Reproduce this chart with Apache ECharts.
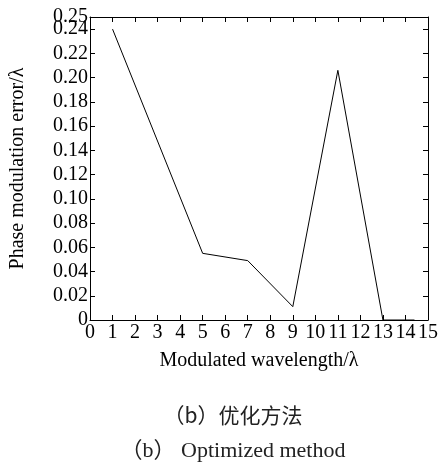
<!DOCTYPE html>
<html>
<head>
<meta charset="utf-8">
<script src="https://cdn.jsdelivr.net/npm/echarts@6/dist/echarts.min.js"></script>
<style>
html,body{margin:0;padding:0;background:#fff;}
#chart{width:441px;height:462px;}
</style>
</head>
<body>
<div id="chart"></div>
<script>
// 数据
var wavelength = [1, 5, 7, 9, 11, 13, 14.4];
var phaseError = [0.24, 0.055, 0.049, 0.011, 0.206, 0, 0];
var yTicks = [0, 0.02, 0.04, 0.06, 0.08, 0.10, 0.12, 0.14, 0.16, 0.18, 0.20, 0.22, 0.24];
var yTopTick = [0.25];
var xTicks = [0, 1, 2, 3, 4, 5, 6, 7, 8, 9, 10, 11, 12, 13, 14, 15];
var xTitle = 'Modulated wavelength/\u03bb';
var yTitle = 'Phase modulation error/\u03bb';
var captionCn = '\uff08b\uff09\u4f18\u5316\u65b9\u6cd5';
var captionEn = '\uff08b\uff09 Optimized method';

var FONT = '"Liberation Serif", "DejaVu Serif", serif';
var points = [];
for (var i = 0; i < wavelength.length; i++) {
	points.push([wavelength[i], phaseError[i]]);
}
var fmt = function (v) { return v === 0 ? '0' : v.toFixed(2); };

var chart = echarts.init(document.getElementById('chart'));
var line = {show: true, onZero: false, lineStyle: {color: '#000', width: 1}};
function tick(vals) {
	return {show: true, inside: true, length: 5, customValues: vals, lineStyle: {color: '#000', width: 1}};
}
var option = {
	animation: false,
	backgroundColor: '#fff',
	grid: {left: 90, right: 10, top: 17, bottom: 142},
	title: [
		{text: captionCn, left: 228, top: 400, textAlign: 'center',
			textStyle: {fontFamily: '"Noto Sans CJK SC", ' + FONT, fontSize: 21, fontWeight: 'normal', color: '#222'}},
		{text: captionEn, left: 228, top: 435, textAlign: 'center',
			textStyle: {fontFamily: FONT + ', "Noto Sans CJK SC"', fontSize: 22, fontWeight: 'normal', color: '#222'}}
	],
	xAxis: [
		{
			type: 'value', min: 0, max: 15, interval: 1,
			name: xTitle, nameLocation: 'middle', nameGap: 31,
			nameTextStyle: {fontFamily: FONT, fontSize: 20, color: '#000'},
			axisLine: line, axisTick: tick(xTicks), splitLine: {show: false},
			axisLabel: {fontFamily: FONT, fontSize: 20, color: '#000', margin: 3, customValues: xTicks}
		},
		{
			type: 'value', min: 0, max: 15, interval: 1, position: 'top',
			axisLine: line, axisTick: tick(xTicks), splitLine: {show: false}, axisLabel: {show: false}
		}
	],
	yAxis: [
		{
			type: 'value', min: 0, max: 0.25, interval: 0.01,
			name: yTitle, nameLocation: 'middle', nameGap: 62,
			nameTextStyle: {fontFamily: FONT, fontSize: 20, color: '#000'},
			axisLine: line, axisTick: tick(yTicks.concat(yTopTick)), splitLine: {show: false},
			axisLabel: {
				fontFamily: FONT, fontSize: 20, color: '#000', margin: 2,
				customValues: yTicks, formatter: fmt
			}
		},
		{
			type: 'value', min: 0, max: 0.25, interval: 0.01, position: 'right',
			axisLine: line, axisTick: tick(yTicks.concat(yTopTick)), splitLine: {show: false}, axisLabel: {show: false}
		},
		{
			type: 'value', min: 0, max: 0.25, interval: 0.01, position: 'left',
			axisLine: {show: false}, axisTick: {show: false}, splitLine: {show: false},
			axisLabel: {
				fontFamily: FONT, fontSize: 20, color: '#000', margin: 2,
				customValues: yTopTick, formatter: fmt
			}
		}
	],
	series: [{
		type: 'line',
		data: points,
		showSymbol: false,
		lineStyle: {color: '#000', width: 1},
		clip: false
	}]
};
chart.setOption(option);
</script>
</body>
</html>
